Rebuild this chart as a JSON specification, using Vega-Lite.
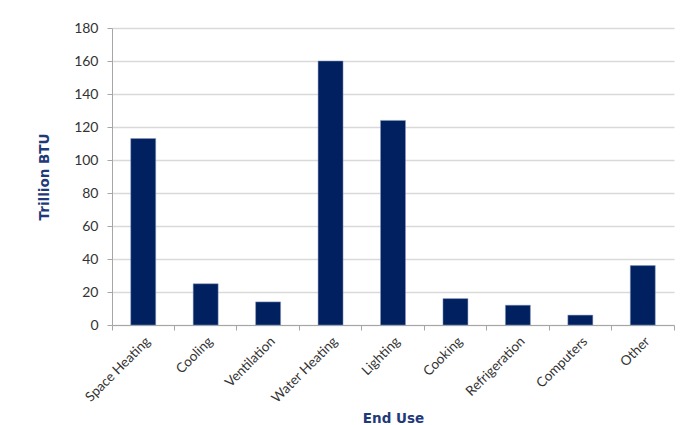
{
  "$schema": "https://vega.github.io/schema/vega-lite/v6.json",
  "width": 562,
  "height": 297,
  "autosize": {"type": "none"},
  "padding": {"left": 112, "top": 28, "right": 10, "bottom": 100},
  "background": "white",
  "config": {"view": {"stroke": null}, "font": "Lato"},
  "data": {
    "values": [
      {"use": "Space Heating", "btu": 113},
      {"use": "Cooling", "btu": 25},
      {"use": "Ventilation", "btu": 14},
      {"use": "Water Heating", "btu": 160},
      {"use": "Lighting", "btu": 124},
      {"use": "Cooking", "btu": 16},
      {"use": "Refrigeration", "btu": 12},
      {"use": "Computers", "btu": 6},
      {"use": "Other", "btu": 36}
    ]
  },
  "mark": {"type": "bar", "color": "#002060", "stroke": "#8a9bbf", "strokeWidth": 0.5, "width": {"band": 0.4}},
  "encoding": {
    "x": {
      "field": "use",
      "type": "nominal",
      "sort": null,
      "scale": {"paddingInner": 0, "paddingOuter": 0},
      "axis": {
        "title": "End Use",
        "titleFont": "DejaVu Sans",
        "titleFontSize": 13.5,
        "titleFontWeight": "bold",
        "titleColor": "#1F3A7A",
        "titleY": 97,
        "titleBaseline": "alphabetic",
        "labelAngle": -45,
        "labelAlign": "right",
        "labelBaseline": "top",
        "labelFontSize": 13.5,
        "labelColor": "#333333",
        "bandPosition": 1,
        "tickExtra": true,
        "labelPadding": 4,
        "tickSize": 5,
        "tickColor": "#a6a6a6",
        "domainColor": "#a6a6a6",
        "grid": false
      }
    },
    "y": {
      "field": "btu",
      "type": "quantitative",
      "scale": {"domain": [0, 180]},
      "axis": {
        "title": "Trillion BTU",
        "titleFont": "DejaVu Sans",
        "titleFontSize": 13.5,
        "titleFontWeight": "bold",
        "titleColor": "#1F3A7A",
        "titlePadding": 22,
        "values": [0, 20, 40, 60, 80, 100, 120, 140, 160, 180],
        "labelFontSize": 14,
        "labelColor": "#333333",
        "labelPadding": 9,
        "tickSize": 5,
        "tickColor": "#a6a6a6",
        "domainColor": "#a6a6a6",
        "gridColor": "#d9d9d9",
        "gridWidth": 1.5
      }
    }
  }
}
